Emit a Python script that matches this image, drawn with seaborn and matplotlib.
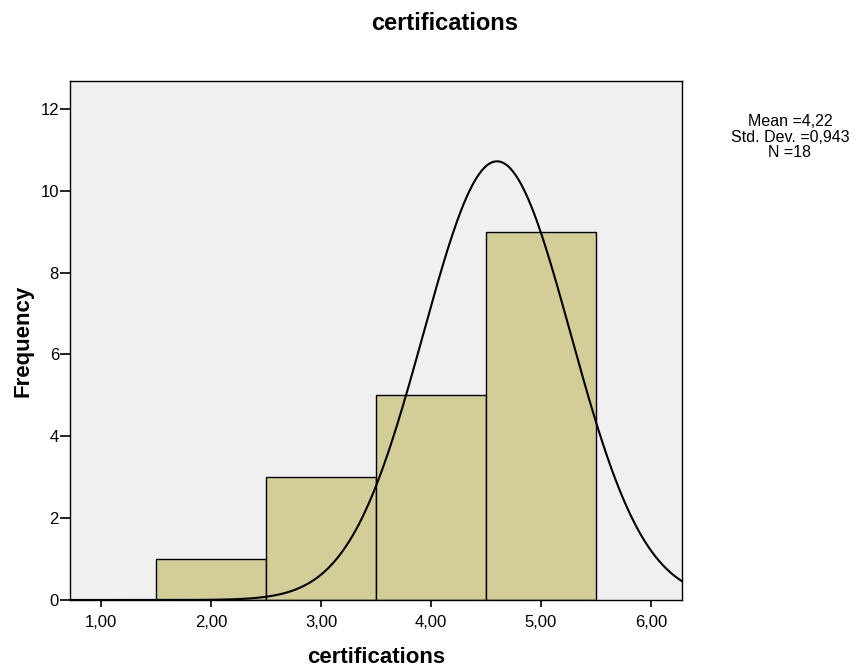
import numpy as np
import pandas as pd
import matplotlib
matplotlib.use("Agg")
import matplotlib.pyplot as plt
import seaborn as sns

# values per bin
bin_centers = [2.0, 3.0, 4.0, 5.0]
bin_counts = [1, 3, 5, 9]
bin_edges = [1.5, 2.5, 3.5, 4.5, 5.5]

# fitted normal curve as drawn in the picture
curve_mean = 4.6
curve_sd = 0.67
n_total = 18

stats_text = "Mean =4,22\nStd. Dev. =0,943\nN =18"
x_ticks = [1, 2, 3, 4, 5, 6]
y_ticks = [0, 2, 4, 6, 8, 10, 12]

values = np.repeat(bin_centers, bin_counts)
df = pd.DataFrame({"certifications": values})

sns.set_theme(style="white")
plt.rcParams["font.family"] = ["Liberation Sans", "DejaVu Sans"]
plt.rcParams["text.color"] = "black"
plt.rcParams["axes.labelcolor"] = "black"
plt.rcParams["xtick.color"] = "black"
plt.rcParams["ytick.color"] = "black"

fig = plt.figure(figsize=(8.56, 6.69), dpi=100)
ax = fig.add_axes([70 / 856, 1 - 600 / 669, 612 / 856, 519 / 669])
ax.set_facecolor("#f0f0f0")

sns.histplot(data=df, x="certifications", bins=bin_edges, ax=ax,
             color="#d3ce97", alpha=1, edgecolor="black", linewidth=1.0)

xs = np.linspace(0.7, 6.3, 400)
ys = n_total * np.exp(-0.5 * ((xs - curve_mean) / curve_sd) ** 2) / (curve_sd * np.sqrt(2 * np.pi))
sns.lineplot(x=xs, y=ys, ax=ax, color="black", linewidth=1.5)

ax.set_xlim(0.718, 6.282)
ax.set_ylim(0, 12.68)
ax.set_xticks(x_ticks)
ax.set_xticklabels([f"{t:.2f}".replace(".", ",") for t in x_ticks], fontsize=12)
ax.set_yticks(y_ticks)
ax.set_yticklabels([str(t) for t in y_ticks], fontsize=12)
ax.tick_params(axis="x", direction="out", length=5, width=1.2, bottom=True, pad=6)
ax.tick_params(axis="y", direction="out", length=7, width=1.2, left=True, pad=1)
for s in ax.spines.values():
    s.set_color("black")
    s.set_linewidth(1.0)

ax.set_xlabel("certifications", fontsize=16, fontweight="bold", labelpad=12)
ax.set_ylabel("Frequency", fontsize=16, fontweight="bold", labelpad=5)

fig.text(445 / 856, 1 - 23 / 669, "certifications", ha="center", va="center",
         fontsize=17, fontweight="bold")
fig.text(790 / 856, 1 - 137 / 669, stats_text, ha="center", va="center",
         fontsize=11.5, linespacing=1.05)

fig.savefig("out.png", dpi=100)
